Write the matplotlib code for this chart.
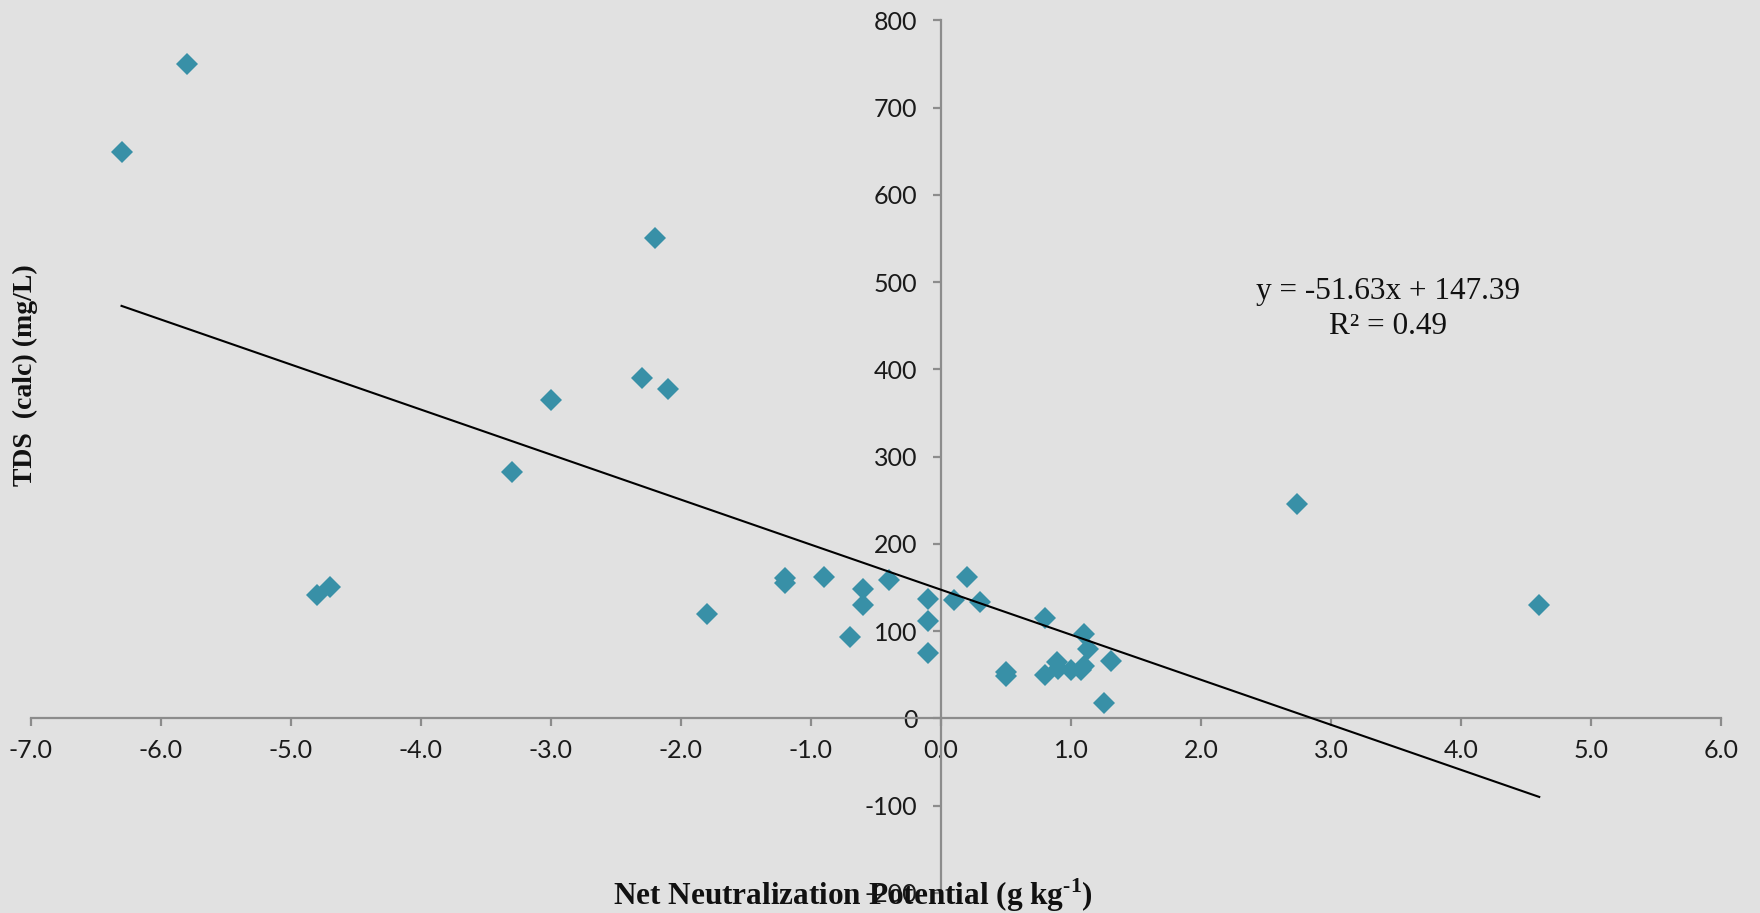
import numpy as np
import matplotlib
matplotlib.use("Agg")
import matplotlib.pyplot as plt

# net neutralization potential (g/kg) vs TDS calc (mg/L)
nnp = [-6.3, -5.8, -2.2, -2.3, -2.1, -3.0, -3.3, -4.8, -4.7, -1.8, 2.74, 4.6,
       -1.2, -1.2, -0.9, -0.6, -0.6, -0.7, -0.4, -0.1, -0.1, -0.1, 0.1, 0.2,
       0.3, 0.5, 0.5, 0.8, 0.8, 0.89, 0.9, 1.0, 1.08, 1.1, 1.1, 1.13, 1.25, 1.31]
tds = [649, 750, 550, 390, 377, 365, 282, 141, 150, 119, 246, 130,
       161, 155, 162, 148, 130, 93, 159, 137, 112, 75, 136, 162,
       133, 53, 48, 115, 50, 64, 56, 55, 55, 60, 97, 80, 17, 66]

slope = -51.63
intercept = 147.39
r2 = 0.49

xticks = np.arange(-7, 6.5, 1.0)
yticks = np.arange(-200, 801, 100)

bg = "#e1e1e1"
axcol = "#8c8c8c"

# superscript in the x label should be bold serif too
plt.rcParams["mathtext.fontset"] = "custom"
plt.rcParams["mathtext.rm"] = "Liberation Serif:bold"

fig = plt.figure(figsize=(17.6, 9.13), dpi=100, facecolor=bg)
ax = fig.add_axes([0.01733, 0.0221, 0.9607, 0.9557])
ax.set_facecolor(bg)

ax.plot(nnp, tds, linestyle="none", marker="D", ms=11.5, color="#3890a7",
        markeredgewidth=0, zorder=3)

xl = np.array([min(nnp), max(nnp)])
ax.plot(xl, slope * xl + intercept, color="black", lw=1.5, zorder=4)

ax.set_xlim(-7, 6)
ax.set_ylim(-200, 800)

for s in ["top", "right"]:
    ax.spines[s].set_visible(False)
ax.spines["left"].set_position(("data", 0))
ax.spines["bottom"].set_position(("data", 0))
for s in ["left", "bottom"]:
    ax.spines[s].set_color(axcol)
    ax.spines[s].set_linewidth(1.6)

ax.set_xticks(xticks)
ax.set_xticklabels(["%.1f" % v for v in xticks])
ax.set_yticks(yticks)
ax.set_yticklabels(["%d" % v for v in yticks])
ax.tick_params(axis="both", direction="out", length=6, width=1.6, color=axcol,
               labelsize=18, labelcolor="#1a1a1a")
ax.tick_params(axis="x", pad=9)
ax.tick_params(axis="y", pad=11)
for lab in ax.get_xticklabels() + ax.get_yticklabels():
    lab.set_family("Lato")

fig.text(0.4847, 0.0195, "Net Neutralization Potential (g kg$^{\\text{-1}}$)",
         ha="center", va="center", fontsize=22.5, fontweight="bold",
         family="Liberation Serif", color="#111111")
fig.text(0.0142, 0.589, "TDS  (calc) (mg/L)", rotation=90, ha="center",
         va="center", fontsize=20, fontweight="bold", family="Liberation Serif",
         color="#111111")

ax.text(0.7886, 0.681, "y = %.2fx + %.2f" % (slope, intercept),
        transform=fig.transFigure, ha="center", va="center", fontsize=22.5,
        family="Liberation Serif", color="#111111")
ax.text(0.7886, 0.642, "R² = %.2f" % r2, transform=fig.transFigure,
        ha="center", va="center", fontsize=22.5, family="Liberation Serif",
        color="#111111")

fig.savefig("out.png", dpi=100, facecolor=bg)
